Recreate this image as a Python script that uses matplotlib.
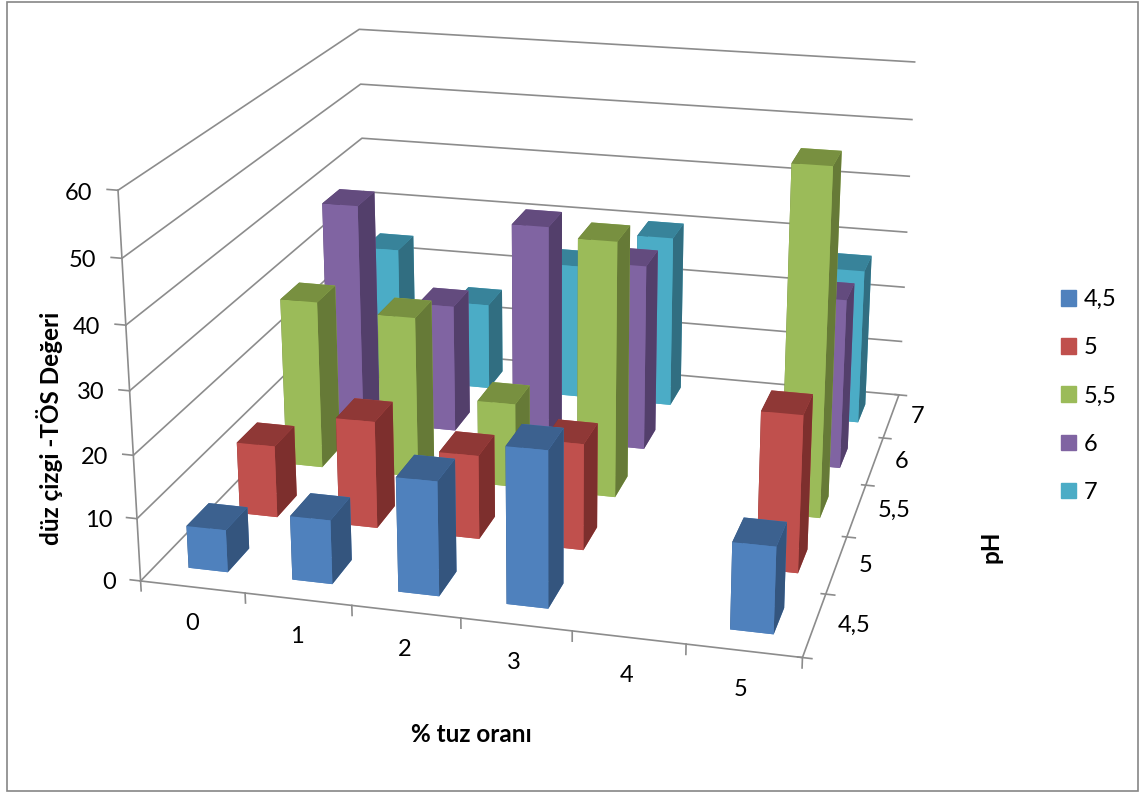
import numpy as np
import matplotlib
matplotlib.use('Agg')
import matplotlib.pyplot as plt
from matplotlib.patches import Patch, Rectangle
from mpl_toolkits.mplot3d import proj3d

plt.rcParams['font.family'] = ['Lato', 'DejaVu Sans']

# veriler
tuz_orani = ['0', '1', '2', '3', '4', '5']
ph_labels = ['4,5', '5', '5,5', '6', '7']
ph_45 = [6.8, 10.2, 18.1, 24.6, np.nan, 13.5]
ph_5 = [11.9, 17.6, 13.7, 17.3, np.nan, 25.2]
ph_55 = [28.5, 27.3, 14.2, 42.6, np.nan, 57]
ph_6 = [38.5, 22.2, 37.4, 32, np.nan, 29]
ph_7 = [24.3, 15.5, 24, 30.4, np.nan, 27.2]
seriler = [ph_45, ph_5, ph_55, ph_6, ph_7]
z_ticks = [0, 10, 20, 30, 40, 50, 60]

# on yuz, ust yuz, yan yuz
renkler = [('#4F81BD', '#3C618F', '#34557E'),
           ('#C0504D', '#8F3836', '#7D2F2D'),
           ('#9BBB59', '#789040', '#667A37'),
           ('#8064A2', '#634B7E', '#533F6B'),
           ('#4BACC6', '#38839A', '#316E81')]
gri = '#8C8C8C'

W, H = 1140, 793
fig = plt.figure(figsize=(W / 100, H / 100), dpi=100)
ax = fig.add_axes([0, 0, 1, 1], projection='3d')
ax.set_xlim(0, 6)
ax.set_ylim(0, 5)
ax.set_zlim(0, 60)

# kamera: Excel gorunumune yakin
ax.view_init(elev=18.91, azim=-75.42)
ax.set_proj_type('persp', focal_length=0.4908)
ax.set_box_aspect((1.6417, 1.748, 1.0))
a, cx, cy = 5178.78, 553.21, 304.3
vl = ax.viewLim.frozen()
ax.set_position([(cx + a * vl.x0) / W, (H - cy + a * vl.y0) / H, a * vl.width / W, a * vl.height / H])
ax.set_axis_off()
ax.computed_zorder = False
M = ax.get_proj()


def yazi(x, y, z, s, ha='center'):
    # 3B konumu ekrana indirip duz metin olarak yaz
    xp, yp, _ = proj3d.proj_transform(x, y, z, M)
    ax.text2D(xp, yp, s, transform=ax.transData, ha=ha, va='center', fontsize=17)


for z in z_ticks:
    ax.plot([0, 0, 6], [0, 5, 5], [z, z, z], color=gri, lw=1.2, zorder=1)
    ax.plot([-0.1, 0], [0, 0], [z, z], color=gri, lw=1.2, zorder=1)
    yazi(-0.24, 0, z - 0.7, str(z), ha='right')
ax.plot([0, 0], [0, 0], [0, 60], color=gri, lw=1.2, zorder=1)
ax.plot([0, 6, 6], [0, 0, 5], [0, 0, 0], color=gri, lw=1.2, zorder=1)
for i in range(7):
    ax.plot([i, i], [0, 0], [0, -1.6], color=gri, lw=1.2, zorder=1)
for j in range(6):
    ax.plot([5.96, 6.08], [j, j], [0, 0], color=gri, lw=1.2, zorder=1)
for i, lab in enumerate(tuz_orani):
    yazi(i + 0.48, 0, -6, lab)
for j, lab in enumerate(ph_labels):
    yazi(6.2, j + 0.5, 0.3, lab, ha='left')

bar_w, bar_d = 0.38, 0.42
sira = 10
for j in range(len(seriler) - 1, -1, -1):
    on, ust, yan = renkler[j]
    for i, deger in enumerate(seriler[j]):
        if np.isnan(deger):
            continue
        # yuzler: alt, ust, on, arka, sol, sag
        yuzler = [on, ust, on, on, yan, yan]
        ax.bar3d(i + 0.5 - bar_w / 2, j + 0.5 - bar_d / 2, 0, bar_w, bar_d, deger,
                 color=yuzler, shade=False, zorder=sira, edgecolor='none')
        sira += 1

fig.text(471 / W, 1 - 735 / H, '% tuz oranı', ha='center', va='center', fontsize=17.5, fontweight='bold')
fig.text(50 / W, 1 - 428 / H, 'düz çizgi -TÖS Değeri', rotation=90, ha='center', va='center', fontsize=17.5, fontweight='bold')
fig.text(991 / W, 1 - 547 / H, 'pH', rotation=90, ha='center', va='center', fontsize=17.5, fontweight='bold')

handles = [Patch(color=r[0], label=l) for r, l in zip(renkler, ph_labels)]
fig.legend(handles=handles, loc='center left', bbox_to_anchor=(1040 / W, 1 - 396 / H), frameon=False,
           fontsize=17, handlelength=0.64, handleheight=0.64, handletextpad=0.3, labelspacing=1.15)

fig.add_artist(Rectangle((6.5 / W, 1 - 790.5 / H), 1131 / W, 789 / H, transform=fig.transFigure,
                         fill=False, edgecolor='#868686', lw=1.2))

fig.savefig('out.png', dpi=100)
